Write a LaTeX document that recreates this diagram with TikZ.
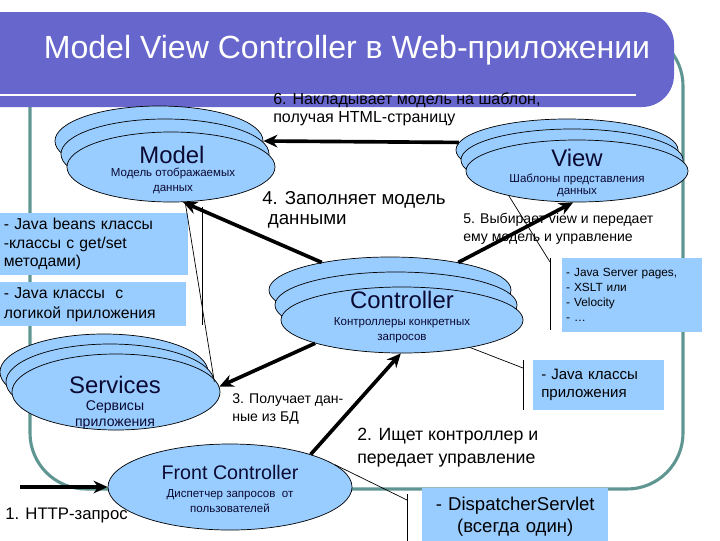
\documentclass[tikz,border=0pt]{standalone}
\usepackage{fontspec}
\setmainfont{Liberation Sans}
\usetikzlibrary{shapes.geometric, arrows.meta}
\usetikzlibrary{positioning}

\definecolor{banner}{RGB}{102,102,204}
\definecolor{frame}{RGB}{96,150,146}
\definecolor{sky}{RGB}{153,204,255}
\definecolor{ink}{RGB}{10,10,50}

\newcommand{\setfs}[2]{\fontsize{#1}{#2}\selectfont}

\begin{document}
\begin{tikzpicture}[
    x=0.025cm, y=-0.025cm,
    >={Stealth[length=10pt, width=9pt]},
    layer/.style   = {draw, ellipse, fill=sky, line width=0.5pt, inner sep=0pt},
    caption/.style = {text=ink, inner sep=0pt, font=\setfs{17}{20}},
    note/.style    = {text=ink, align=center, inner sep=0pt, font=\setfs{8.2}{10.5}},
    panel/.style   = {fill=sky, anchor=north west, align=left, inner xsep=2.5pt, inner ysep=0pt},
    remark/.style  = {anchor=west, align=left, inner sep=0pt},
    flow/.style    = {draw, ->, line width=2.6pt},
    leader/.style  = {draw, line width=0.5pt},
  ]
  \useasboundingbox (0,0) rectangle (720,540);
  \draw[frame, line width=2.2pt, rounded corners=1.4cm] (30,30) rectangle (683,489);
  \fill[banner, rounded corners=0.8cm] (-60,12) rectangle (674,107);
  \draw[white, line width=2pt] (-10,95) -- (636,95);
  \node[text=white, inner sep=0pt, font=\setfs{22.8}{26}] (heading) at (347,50) {Model View Controller в Web-приложении};

  \node[layer, minimum width=5.2cm, minimum height=1.75cm] (model3) at (159,141) {};
  \node[layer, minimum width=5.2cm, minimum height=1.75cm] (model2) at (165,154) {};
  \node[layer, minimum width=5.2cm, minimum height=1.75cm] (model) at (171,167) {};
  \node[caption] (modelname) at (172,155) {Model};
  \node[note] (modelnote) at (173,181) {Модель отображаемых\\данных};

  \node[layer, minimum width=5.55cm, minimum height=1.55cm] (view3) at (567,150) {};
  \node[layer, minimum width=5.55cm, minimum height=1.55cm] (view2) at (572,160) {};
  \node[layer, minimum width=5.55cm, minimum height=1.55cm] (view) at (577,171) {};
  \node[caption] (viewname) at (577,158) {View};
  \node[note, font=\setfs{8.2}{8.6}] (viewnote) at (577,185) {Шаблоны представления\\данных};

  \node[layer, minimum width=6.05cm, minimum height=1.65cm] (controller3) at (390,290) {};
  \node[layer, minimum width=6.05cm, minimum height=1.65cm] (controller2) at (396,305) {};
  \node[layer, minimum width=6.05cm, minimum height=1.65cm] (controller) at (402,320) {};
  \node[caption] (controllername) at (402,300) {Controller};
  \node[note] (controllernote) at (402,330) {Контроллеры конкретных\\запросов};

  \node[layer, minimum width=5.2cm, minimum height=1.9cm] (services3) at (104,372) {};
  \node[layer, minimum width=5.2cm, minimum height=1.9cm] (services2) at (110,382) {};
  \node[layer, minimum width=5.2cm, minimum height=1.9cm] (services) at (116,392) {};
  \node[caption] (servicesname) at (115,385) {Services};
  \node[note, font=\setfs{10}{12}] (servicesnote) at (115,415) {Сервисы\\приложения};

  \node[layer, minimum width=6.1cm, minimum height=2.15cm] (front) at (230,487) {};
  \node[caption, font=\setfs{14}{17}] (frontname) at (230,472) {Front Controller};
  \node[note, font=\setfs{8.2}{10.5}] (frontnote) at (230,501) {Диспетчер запросов~ от\\пользователей};

  \node[panel, text width=4.52cm, minimum height=1.55cm, font=\setfs{11.2}{13.2}] (beans) at (0,213) {- Java beans классы\\-классы с get/set\\методами)};
  \node[panel, text width=4.47cm, minimum height=1.1cm, font=\setfs{11.2}{14.2}] (logic) at (0,282) {- Java классы~ с\\логикой приложения};
  \node[panel, inner xsep=2.8pt, text width=3.3cm, minimum height=1.85cm, font=\setfs{8.4}{10.7}] (pages) at (562,258) {- Java Server pages,\\- XSLT или\\- Velocity\\- …};
  \node[panel, inner xsep=5.7pt, text width=2.875cm, minimum height=1.25cm, font=\setfs{10.7}{12.8}] (classes) at (533,360) {- Java классы\\приложения};
  \node[panel, align=center, text width=4.47cm, minimum height=1.4cm, font=\setfs{13.2}{15.6}] (servlet) at (422,488) {- DispatcherServlet\\(всегда один)};

  \coordinate (beanbar) at (202,207);
  \coordinate (pagesbar) at (550,262);
  \coordinate (classbar) at (523,368);
  \coordinate (servletbar) at (407,500);
  \coordinate (client) at (20,487);

  \draw[leader] (202,207) -- (202,325);
  \draw[leader] (model.-68) -- (services2.east);
  \draw[leader] (550,258) -- (550,330);
  \draw[leader] (pagesbar) -- (view.200);
  \draw[leader] (523,360) -- (523,410);
  \draw[leader] (controller.-22) -- (classbar);
  \draw[leader] (407,494) -- (407,545);
  \draw[leader] (front.12) -- (servletbar);

  \draw (client) edge[flow] (front.west);
  \draw (front.22) edge[flow] (controller.-92);
  \draw (controller.195) edge[flow] (services.3);
  \draw (controller3.158) edge[flow] (model.-71);
  \draw (controller3.22) edge[flow] (view.-97);
  \draw (view3.176) edge[flow] (model3.east);

  \node[remark, font=\setfs{11.4}{12.8}] (apply) at (273,109) {6. Накладывает модель на шаблон,\\получая HTML-страницу};
  \node[remark, font=\setfs{13.3}{14.6}] (fillin) at (262,210) {4. Заполняет модель\\\hspace{4pt}данными};
  \node[remark, font=\setfs{10}{12.8}] (choose) at (463,229) {5. Выбирает view и передает\\ему модель и управление};
  \node[remark, font=\setfs{10}{12.8}] (fetch) at (232,409) {3. Получает дан-\\ные из БД};
  \node[remark, font=\setfs{12.6}{16.4}] (lookup) at (357,448) {2. Ищет контроллер и\\передает управление};
  \node[remark, font=\setfs{11.9}{14}] (httplabel) at (5,515) {1. HTTP-запрос};
\end{tikzpicture}
\end{document}
